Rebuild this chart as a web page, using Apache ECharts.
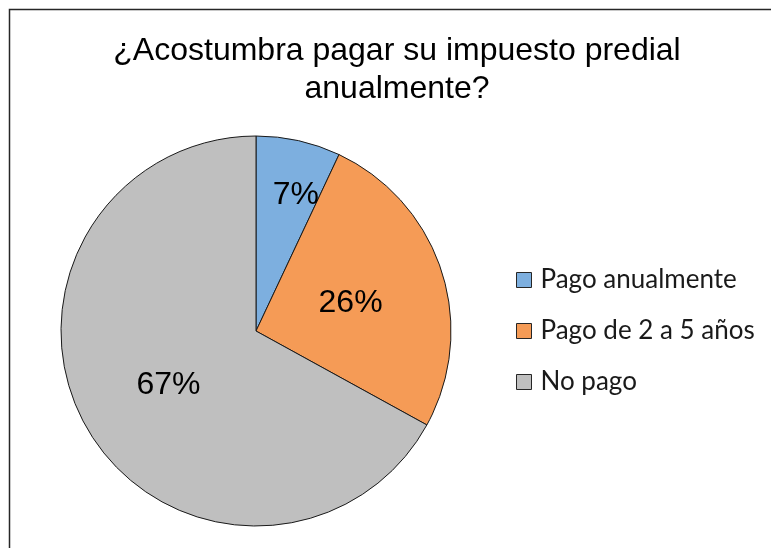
<!DOCTYPE html>
<html>
<head>
<meta charset="utf-8">
<script src="https://cdn.jsdelivr.net/npm/echarts@6/dist/echarts.min.js"></script>
<style>
  html, body { margin: 0; padding: 0; background: #fff; }
  #pie { width: 771px; height: 548px; }
</style>
</head>
<body>
<div id="pie"></div>
<script>
var categories = ['Pago anualmente', 'Pago de 2 a 5 años', 'No pago'];
var values = [7, 26, 67];
var colors = ['#7DAFDF', '#F59B56', '#BFBFBF'];
var titleText = '¿Acostumbra pagar su impuesto predial\nanualmente?';

var pieData = categories.map(function (name, i) {
    return { name: name, value: values[i], itemStyle: { color: colors[i] } };
});

var myChart = echarts.init(document.getElementById('pie'));

var option = {
    backgroundColor: '#ffffff',
    animation: false,
    graphic: [{
        type: 'rect',
        shape: { x: 9.5, y: 9.5, width: 900, height: 700 },
        style: { fill: 'none', stroke: '#262626', lineWidth: 1.5 },
        silent: true
    }],
    title: {
        text: titleText,
        left: 392,
        top: 27,
        textAlign: 'center',
        textStyle: {
            fontFamily: 'Liberation Sans',
            fontWeight: 'normal',
            fontSize: 32,
            lineHeight: 38,
            color: '#000'
        }
    },
    legend: {
        data: categories,
        orient: 'vertical',
        left: 516,
        top: 267,
        padding: 0,
        itemGap: 25,
        itemWidth: 15,
        itemHeight: 15,
        icon: 'rect',
        itemStyle: { borderColor: '#262626', borderWidth: 1 },
        textStyle: {
            fontFamily: 'Lato',
            fontSize: 26,
            lineHeight: 26,
            color: '#1a1a1a',
            padding: [0, 0, 0, 4]
        }
    },
    series: [{
        type: 'pie',
        center: [256, 331],
        radius: 195,
        startAngle: 90,
        clockwise: true,
        data: pieData,
        itemStyle: { borderColor: '#1a1a1a', borderWidth: 1 },
        emphasis: { disabled: true },
        label: {
            position: 'inside',
            formatter: '{c}%',
            fontFamily: 'Liberation Sans',
            fontSize: 32,
            color: '#000'
        },
        labelLayout: function (params) {
            // small slice: Excel pushes its label outward
            if (params.dataIndex === 0) {
                return { dx: 18, dy: -38 };
            }
            return { dx: -1, dy: 3 };
        }
    }]
};

myChart.setOption(option);

window.onresize = function () {
    myChart.resize();
};
</script>
</body>
</html>
